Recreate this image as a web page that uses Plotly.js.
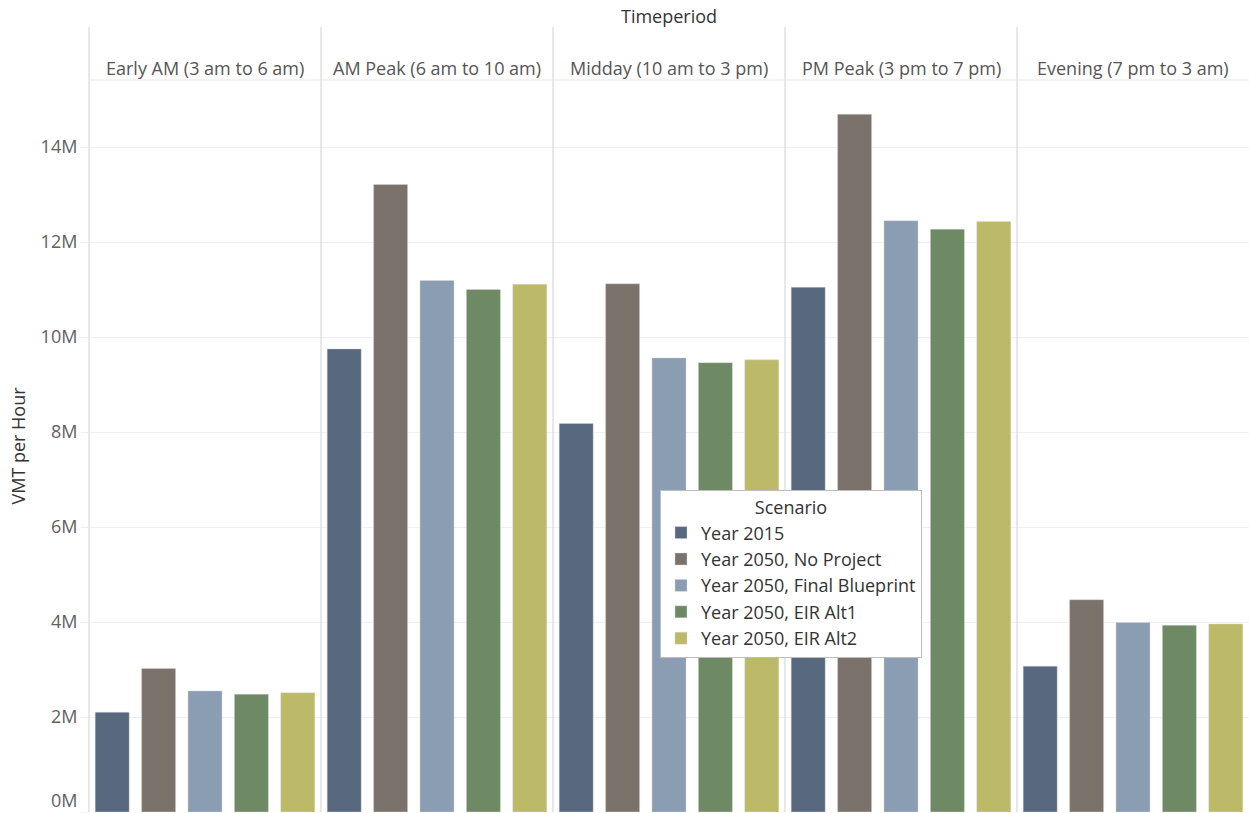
<!DOCTYPE html>
<html>
<head>
<meta charset="utf-8">
<script src="https://cdn.plot.ly/plotly-3.0.1.min.js"></script>
<style>html,body{margin:0;padding:0;background:#fff;}#chart{width:1249px;height:813px;}</style>
</head>
<body>
<div id="chart"></div>
<script>
// ---- data (values in millions of VMT per hour) ----
const timeperiods = ["Early AM (3 am to 6 am)", "AM Peak (6 am to 10 am)", "Midday (10 am to 3 pm)", "PM Peak (3 pm to 7 pm)", "Evening (7 pm to 3 am)"];
const scenarios = ["Year 2015", "Year 2050, No Project", "Year 2050, Final Blueprint", "Year 2050, EIR Alt1", "Year 2050, EIR Alt2"];
const year2015 = [2.10, 9.75, 8.18, 11.05, 3.07];
const year2050NoProject = [3.02, 13.21, 11.12, 14.69, 4.47];
const year2050FinalBlueprint = [2.55, 11.19, 9.56, 12.45, 3.99];
const year2050EirAlt1 = [2.48, 11.00, 9.46, 12.27, 3.93];
const year2050EirAlt2 = [2.51, 11.11, 9.52, 12.43, 3.96];
const tickValues = [0, 2, 4, 6, 8, 10, 12, 14];
const tickLabels = ["0M", "2M", "4M", "6M", "8M", "10M", "12M", "14M"];

const seriesValues = [year2015, year2050NoProject, year2050FinalBlueprint, year2050EirAlt1, year2050EirAlt2];
const colors = ["#58687e", "#7b736b", "#8a9db2", "#6e8a64", "#bcba68"];

const FONT = "Open Sans, Lato, DejaVu Sans, sans-serif";
const FS = 18;
const nP = timeperiods.length;
const traces = [];
scenarios.forEach((s, si) => {
  timeperiods.forEach((tp, pi) => {
    traces.push({
      type: "bar",
      x: [s],
      y: [seriesValues[si][pi]],
      name: s,
      legendgroup: s,
      showlegend: pi === 0,
      xaxis: pi === 0 ? "x" : "x" + (pi + 1),
      yaxis: "y",
      opacity: 1,
      marker: {color: colors[si], line: {color: "rgba(220,220,220,0.7)", width: 0.6}},
      hovertemplate: tp + "<br>" + s + ": %{y:.2f}M<extra></extra>"
    });
  });
});

// Tableau nudges the bottom-edge label up so it fits; the other labels sit on their gridlines
const axisTickText = tickLabels.map((t, i) => (i === 0 ? "" : t));

const layout = {
  width: 1249, height: 813,
  margin: {l: 89, r: 0, t: 80, b: 1},
  paper_bgcolor: "#fff", plot_bgcolor: "#fff",
  font: {family: FONT, size: FS, color: "#555"},
  barmode: "overlay",
  bargap: 0.267,
  showlegend: true,
  legend: {
    x: (660 - 89) / 1160, y: (812 - 490) / 732, xanchor: "left", yanchor: "top",
    bgcolor: "#fff", bordercolor: "#bdbdbd", borderwidth: 1,
    font: {family: FONT, size: FS, color: "#333"},
    title: {text: "Scenario", side: "top center", font: {family: FONT, size: FS, color: "#333"}},
    traceorder: "normal", itemclick: false
  },
  yaxis: {
    range: [0, 732 / 47.5],
    tickvals: tickValues, ticktext: axisTickText,
    showgrid: true, gridcolor: "#f0f0f0", gridwidth: 1,
    zeroline: false, showline: false,
    ticks: "outside", ticklen: 7, tickcolor: "#eeeeee",
    tickfont: {family: FONT, size: FS, color: "#616161"},
    title: {text: "VMT per Hour", font: {family: FONT, size: FS, color: "#333"}, standoff: 10},
    fixedrange: true
  },
  shapes: [],
  annotations: [{
    text: "Timeperiod", xref: "paper", yref: "paper", x: 0.5, y: (812 - 16) / 732,
    xanchor: "center", yanchor: "middle", showarrow: false,
    font: {family: FONT, size: FS, color: "#333"}
  }, {
    text: tickLabels[0], xref: "paper", yref: "y", x: (79 - 89) / 1160, y: tickValues[0], yshift: 12,
    xanchor: "right", yanchor: "middle", showarrow: false,
    font: {family: FONT, size: FS, color: "#616161"}
  }]
};

for (let pi = 0; pi < nP; pi++) {
  const key = pi === 0 ? "xaxis" : "xaxis" + (pi + 1);
  layout[key] = {
    domain: [pi / nP, (pi + 1) / nP],
    anchor: "y",
    type: "category",
    categoryorder: "array", categoryarray: scenarios,
    showticklabels: false, ticks: "", showgrid: false, zeroline: false, showline: false,
    fixedrange: true
  };
  layout.annotations.push({
    text: timeperiods[pi], xref: "paper", yref: "paper",
    x: (pi + 0.5) / nP, y: (812 - 68) / 732, xanchor: "center", yanchor: "middle",
    showarrow: false, font: {family: FONT, size: FS, color: "#555"}
  });
  layout.shapes.push({
    type: "line", xref: "paper", yref: "paper",
    x0: pi / nP, x1: pi / nP, y0: 0, y1: (812 - 27) / 732,
    line: {color: "#d9d9d9", width: 1.2}, layer: "above"
  });
}
// header underline
layout.shapes.push({
  type: "line", xref: "paper", yref: "paper", x0: 0, x1: 1, y0: 1, y1: 1,
  line: {color: "#e6e6e6", width: 1}
});

Plotly.newPlot("chart", traces, layout, {displayModeBar: false});
</script>
</body>
</html>
